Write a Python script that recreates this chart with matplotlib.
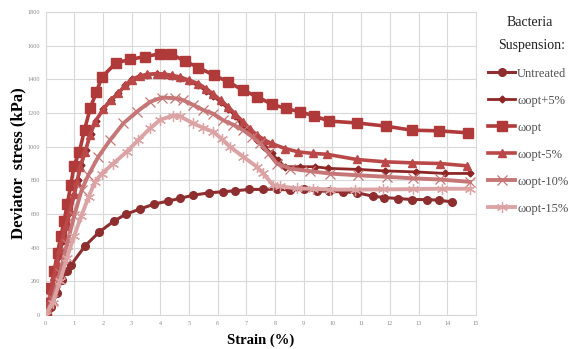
import matplotlib
matplotlib.use("Agg")
import matplotlib.pyplot as plt

# ---------------- data ----------------
labels = ["Untreated", "ωopt+5%", "ωopt", "ωopt-5%", "ωopt-10%", "ωopt-15%"]

untreated_x = [0, 0.2, 0.4, 0.56, 0.74, 0.9, 1.38, 1.88, 2.37, 2.8, 3.29, 3.78, 4.28, 4.69,
               5.15, 5.71, 6.17, 6.6, 7.1, 7.57, 8.08, 8.52, 9.01, 9.45, 9.89, 10.38, 10.86,
               11.4, 11.79, 12.29, 12.77, 13.28, 13.71, 14.16]
untreated_y = [0, 50, 130, 210, 260, 300, 411, 494, 556, 599, 629, 659, 677, 693,
               712, 726, 732, 738, 746, 746, 748, 742, 746, 738, 734, 732, 726,
               706, 698, 692, 686, 686, 682, 672]

opt_x = [0, 0.1, 0.2, 0.3, 0.42, 0.54, 0.65, 0.76, 0.88, 0.99, 1.18, 1.36, 1.56, 1.77, 1.96,
         2.46, 2.95, 3.45, 3.98, 4.37, 4.85, 5.33, 5.87, 6.37, 6.88, 7.37, 7.88, 8.38, 8.87,
         9.36, 9.88, 10.86, 11.86, 12.76, 13.72, 14.73]
opt_y = [0, 70, 160, 260, 370, 470, 560, 660, 770, 885, 970, 1100, 1230, 1322, 1413,
         1498, 1518, 1535, 1551, 1551, 1509, 1470, 1424, 1385, 1335, 1298, 1252, 1227, 1207,
         1183, 1152, 1141, 1122, 1098, 1094, 1082]

opt_p5_x = [0, 0.12, 0.24, 0.36, 0.48, 0.6, 0.72, 0.86, 1.0, 1.12, 1.25, 1.4, 1.57, 1.75, 2.0,
            2.27, 2.54, 2.77, 3.0, 3.29, 3.55, 3.87, 4.13, 4.4, 4.69, 5.0, 5.32, 5.6, 5.85,
            6.1, 6.37, 6.62, 6.84, 7.1, 7.36, 7.62, 7.88, 8.1, 8.34, 8.87, 9.39, 9.86, 10.9,
            11.83, 12.91, 13.92, 14.79]
opt_p5_y = [0, 80, 170, 260, 350, 440, 520, 610, 710, 800, 890, 980, 1075, 1150, 1225,
            1280, 1320, 1365, 1400, 1418, 1428, 1432, 1428, 1420, 1410, 1390, 1365, 1330, 1300,
            1265, 1225, 1180, 1128, 1085, 1039, 1000, 960, 920, 881, 881, 881, 871, 865,
            856, 850, 841, 841]

opt_m5_x = [0, 0.1, 0.2, 0.3, 0.4, 0.5, 0.6, 0.7, 0.85, 1.0, 1.1, 1.2, 1.38, 1.55, 1.72, 2.01,
            2.27, 2.54, 2.77, 3.0, 3.29, 3.55, 3.87, 4.13, 4.4, 4.69, 5.0, 5.32, 5.6, 5.85,
            6.1, 6.37, 6.62, 6.89, 7.13, 7.38, 7.63, 7.88, 8.34, 8.81, 9.31, 9.8, 10.84,
            11.83, 12.76, 13.75, 14.7]
opt_m5_y = [0, 70, 150, 230, 310, 390, 460, 530, 620, 720, 790, 880, 970, 1068, 1147, 1221,
            1275, 1316, 1365, 1399, 1420, 1430, 1434, 1432, 1424, 1414, 1395, 1375, 1345, 1312,
            1275, 1236, 1192, 1147, 1105, 1068, 1040, 1019, 989, 969, 960, 955, 924,
            910, 904, 900, 886]

opt_m10_x = [0, 0.25, 0.5, 0.75, 1.0, 1.26, 1.49, 1.84, 2.25, 2.71, 3.18, 3.64, 4.05, 4.5,
             4.8, 5.15, 5.5, 5.85, 6.19, 6.55, 6.89, 7.2, 7.48, 7.78, 8.06, 8.52, 9.2, 9.91,
             10.9, 11.89, 12.8, 13.75, 14.79]
opt_m10_y = [0, 90, 250, 420, 590, 742, 830, 940, 1039, 1138, 1207, 1266, 1292, 1288,
             1276, 1248, 1217, 1195, 1157, 1130, 1098, 1060, 1019, 960, 900, 870, 855, 840,
             830, 821, 812, 805, 791]

opt_m15_x = [0, 0.25, 0.5, 0.75, 1.0, 1.25, 1.5, 1.72, 1.96, 2.36, 2.83, 3.23, 3.64, 4.0,
             4.45, 4.69, 5.15, 5.5, 5.85, 6.15, 6.43, 6.89, 7.36, 7.59, 7.94, 8.17, 8.75,
             9.33, 9.91, 10.8, 11.77, 12.8, 13.8, 14.79]
opt_m15_y = [0, 70, 200, 340, 470, 590, 700, 790, 840, 900, 970, 1039, 1108, 1160,
             1185, 1180, 1138, 1112, 1088, 1045, 999, 940, 881, 841, 770, 765, 752,
             750, 745, 745, 746, 748, 750, 750]

xticks = list(range(0, 16))
yticks = list(range(0, 1801, 200))

# ---------------- style ----------------
serif = ["Liberation Serif", "DejaVu Serif"]
fig = plt.figure(figsize=(5.79, 3.49), dpi=100)
ax = fig.add_axes([0.0786, 0.0974, 0.822 - 0.0786, 0.9656 - 0.0974])

series = [
    (untreated_x, untreated_y, dict(color="#8E2E2E", lw=2.2, marker="o", ms=5.5)),
    (opt_p5_x, opt_p5_y, dict(color="#8F2626", lw=2.0, marker="D", ms=3.5)),
    (opt_x, opt_y, dict(color="#B03A3A", lw=2.6, marker="s", ms=7.0)),
    (opt_m5_x, opt_m5_y, dict(color="#BA4848", lw=2.6, marker="^", ms=6.0)),
    (opt_m10_x, opt_m10_y, dict(color="#C67676", lw=2.8, marker="x", ms=7.0, mew=0.9)),
    (opt_m15_x, opt_m15_y, dict(color="#DBA3A3", lw=2.8, marker=(6, 2, 0), ms=8.0, mew=0.9)),
]
for i, ((x, y, kw), lab) in enumerate(zip(series, labels)):
    ax.plot(x, y, label=lab, zorder=3 + i, **kw)

ax.set_xlim(0, 15)
ax.set_ylim(0, 1800)
ax.set_xticks(xticks)
ax.set_yticks(yticks)
ax.set_xticklabels([str(t) for t in xticks], fontsize=4.5, color="#8A8A8A", family=serif)
ax.set_yticklabels([str(t) for t in yticks], fontsize=4.5, color="#8A8A8A", family=serif)
ax.tick_params(length=0, pad=4)
ax.grid(True, color="#D8D8D8", lw=0.8)
ax.set_axisbelow(True)
for s in ax.spines.values():
    s.set_color("#D8D8D8")
    s.set_linewidth(0.8)

ax.set_xlabel("Strain (%)", fontsize=10.5, fontweight="bold", family=serif, labelpad=6)
ax.set_ylabel("Deviator  stress (kPa)", fontsize=12, fontweight="bold", family=serif,
              labelpad=1)

# legend title lines
fig.text(530 / 579, 1 - 23 / 349, "Bacteria", ha="center", va="center",
         fontsize=10, family=serif, color="#202020")
fig.text(532 / 579, 1 - 45 / 349, "Suspension:", ha="center", va="center",
         fontsize=10, family=serif, color="#202020")

handles, labs = ax.get_legend_handles_labels()
leg = fig.legend(handles, labs, loc="upper left", bbox_to_anchor=(0.836, 1 - 64 / 349),
                 frameon=False, prop={"family": serif, "size": 9}, handlelength=2.2,
                 handletextpad=0.15, labelspacing=1.2, borderaxespad=0, borderpad=0.3)
for t in leg.get_texts():
    t.set_color("#505050")

fig.savefig("out.png", dpi=100)
